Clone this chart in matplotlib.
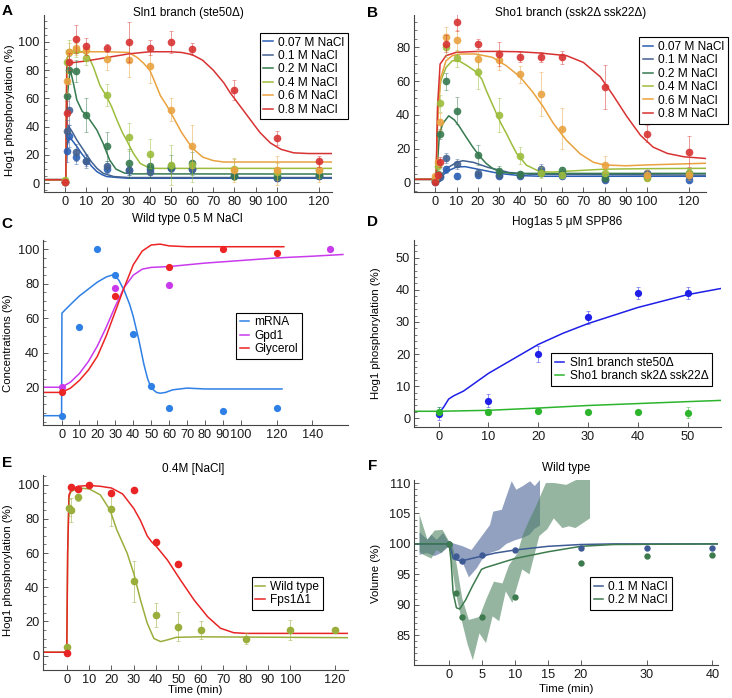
import matplotlib
matplotlib.use('Agg')
import matplotlib.pyplot as plt
from matplotlib.ticker import MultipleLocator

plt.rcParams['font.family'] = ['Liberation Sans', 'DejaVu Sans']
plt.rcParams['font.size'] = 9

# ---------------- A / B : Hog1 phosphorylation time courses
t_blot = [0, 1, 2, 5, 10, 20, 30, 40, 50, 60, 80, 100, 120]
nacl_labels = ['0.07 M NaCl', '0.1 M NaCl', '0.2 M NaCl', '0.4 M NaCl', '0.6 M NaCl', '0.8 M NaCl']
nacl_colors = ['#2b5fb4', '#42618f', '#367a4f', '#9cbd3c', '#e9a23f', '#d83232']

# Sln1 branch (ste50) measurements
sln1_vals = [
    [1, 23, 33.5, 18.5, 16, 10, 9, 10, 11, 10, 5, 4, 5],
    [1, 37, 51.5, 22, 16, 12, 9, 8, 11, 10, 5, 4, 5],
    [1, 62, 80, 79.5, 48, 26, 14, 12, 12, 14, 5, 5, 6],
    [2, 86, 93, 94, 88.5, 62.5, 32.5, 21, 13, 13, 10, 8, 9],
    [1, 72, 93, 96, 94, 88, 87, 83, 52, 26, 9, 9, 9],
    [1, 50, 86, 102, 97, 95.5, 100, 96, 100, 95, 66, 32, 15.5],
]
sln1_err = [
    [0, 8, 8, 5, 4, 3, 3, 3, 3, 3, 2, 2, 2],
    [0, 8, 10, 6, 5, 4, 3, 4, 4, 3, 2, 2, 2],
    [0, 10, 10, 8, 12, 10, 10, 8, 8, 8, 2, 2, 2],
    [0, 8, 8, 5, 5, 8, 10, 10, 14, 12, 8, 6, 5],
    [0, 8, 6, 5, 5, 8, 12, 12, 8, 15, 8, 10, 8],
    [0, 8, 6, 10, 6, 3, 14, 5, 8, 4, 7, 5, 4],
]
# model curves, panel A
sln1_fit_t = [
    [-10, 0.3, 0.8, 2, 3.5, 5.5, 8, 10.2, 12.5, 15, 17.5, 19.7, 25, 30, 126],
    [-10, 0.3, 0.8, 1.6, 3.5, 5.5, 8, 10.2, 12.5, 15, 18, 23, 30, 126],
    [-10, 0.3, 1, 2.4, 4, 5.5, 8, 10.2, 12.5, 15, 18, 21, 24, 28, 32, 126],
    [-10, 0.3, 0.8, 2, 5, 8, 11, 13.4, 16.5, 19.7, 22, 24.4, 27, 29, 32.3, 35.5, 40, 45, 126],
    [-10, 0.3, 0.8, 2, 10, 20, 30, 34, 37, 40, 42, 45, 48, 51, 55, 60, 65, 70, 75, 126],
    [-10, 0.3, 0.8, 2, 10, 20, 30, 40, 50, 55, 60, 65, 70, 75, 78, 82, 87, 92, 97, 102, 108, 115, 126],
]
sln1_fit_v = [
    [2.5, 2.5, 26, 32.5, 30, 26, 20.5, 16.5, 12, 8.2, 6, 4.7, 4, 3.5, 3.5],
    [2.5, 2.5, 34, 40.5, 36, 30.6, 25, 20, 15, 10.6, 7, 4.7, 4, 4],
    [2.5, 2.5, 62, 80.5, 70, 59, 51, 48, 43, 37.6, 28, 16.5, 10, 7.2, 6.6, 6.5],
    [2.5, 2.5, 88, 93, 93.5, 93, 90, 82, 69, 61, 54, 45, 36, 30.6, 21, 14, 10.6, 10.5, 10.5],
    [2.5, 2.5, 88, 92, 93, 93, 92.5, 89, 85, 80, 73, 62, 55, 47, 36, 25, 18.5, 16, 15, 15],
    [2.5, 2.5, 84, 85, 86.5, 89, 91.5, 93, 93, 92.5, 91, 87, 80, 71, 64, 56, 46, 36, 28.5, 24, 21.5, 21, 21],
]

# Sho1 branch (ssk2 ssk22) measurements
sho1_vals = [
    [0.5, 3, 3.5, 8, 4, 4.5, 4, 4, 6, 4, 1.5, 4.5, 1.5],
    [1, 3, 4, 14.5, 11, 6, 4.5, 4.5, 8, 5, 2, 5.5, 4],
    [1, 5, 29, 60, 42.5, 16.5, 7, 5, 6, 7.5, 3, 3.5, 6],
    [2, 10, 47, 80, 73.5, 65.5, 40, 16, 6, 4.5, 6, 3, 6],
    [4, 12, 36, 86, 84, 73, 72.5, 64, 52.5, 32, 10.5, 4.5, 4.5],
    [0.6, 4.5, 12, 82, 94.7, 81.7, 76, 74, 74, 74, 56.6, 29, 18.3],
]
sho1_err = [
    [0, 1, 1, 2, 2, 2, 1, 1, 2, 1, 1, 1, 1],
    [0, 1, 1, 3, 3, 2, 1, 1, 3, 1, 1, 1, 1],
    [0, 2, 3, 5, 8, 6, 3, 2, 2, 2, 1, 1, 2],
    [0, 3, 5, 6, 5, 10, 10, 5, 3, 2, 2, 2, 2],
    [0, 3, 5, 6, 6, 5, 6, 5, 13, 12, 5, 3, 3],
    [0, 2, 3, 5, 5, 3, 7, 3, 3, 4, 13, 5, 9],
]
sho1_fit_t = [
    [-10, 0.3, 1, 3, 6, 10, 14, 20, 30, 40, 50, 128],
    [-10, 0.3, 1, 3, 6, 10, 13, 18, 25, 35, 45, 128],
    [-10, 0.3, 1, 1.9, 3.5, 6.3, 9, 11.4, 14.5, 17.7, 21, 24, 27, 30.4, 34, 38.4, 128],
    [-10, 0.3, 1.1, 2.5, 5, 8, 11, 14.6, 19.3, 22, 24, 26.5, 28.8, 31, 33.6, 36, 38.4, 43, 49.4, 55.8, 65, 80, 100, 128],
    [-10, 0.3, 1, 2.5, 5, 8, 12, 19, 27, 33.6, 40, 46, 51, 55.8, 62, 68.5, 74.8, 80, 90, 100, 128],
    [-10, 0.3, 1, 2.2, 5, 10, 20, 30, 40, 50, 62, 70, 78, 84, 90.6, 97, 103, 109.7, 117.6, 128],
]
sho1_fit_v = [
    [2, 2, 2.5, 4, 7, 9.3, 9.5, 8, 5.5, 4.2, 3.8, 3.8],
    [2, 2, 3, 5, 9, 12, 13, 12, 9, 6, 5, 4.5],
    [2, 2, 12, 29, 35, 39.5, 37, 33, 27, 21, 15.5, 11.4, 8.5, 6.5, 5.8, 5.5, 5.5],
    [2, 2, 45, 60, 68, 72, 72, 69.4, 65.4, 61, 54.6, 47.5, 41, 35, 29, 23, 17.3, 10.4, 6.5, 6.3, 7, 8, 8.3, 8.5],
    [2, 2, 35, 62, 72, 75, 76, 76, 74, 69, 62.5, 53.6, 44.8, 35, 25, 17, 12, 10.5, 10, 10.5, 11.5],
    [2, 2, 45, 70, 75, 77, 77.5, 77.5, 77.3, 76.5, 75, 71, 62.5, 51.7, 39, 28, 21, 17.3, 15.3, 14.3],
]

# ---------------- C : wild type 0.5 M NaCl
mrna_t = [0, 10, 20, 30, 40, 50, 60, 90, 120]
mrna_v = [3.5, 55, 100, 85, 51, 20.5, 8, 6, 8]
gpd1_t = [0, 30, 60, 150]
gpd1_v = [20, 77.5, 79.5, 100]
glyc_t = [0, 30, 60, 90, 120]
glyc_v = [17, 73, 90, 100, 98]
mrna_fit_t = [-10, 0, 0.2, 5, 10, 15, 20, 25, 28, 30, 32, 35, 38, 40, 43, 46, 48, 50, 53, 55, 58, 62, 70, 80, 123]
mrna_fit_v = [3.5, 3.5, 63, 68, 73, 77, 81, 84, 85, 84.5, 82, 76, 68, 61, 48, 33, 25, 19.5, 17, 16.5, 17, 18.5, 19.5, 19, 19]
gpd1_fit_t = [-10, 0, 5, 10, 15, 20, 25, 30, 35, 40, 45, 50, 60, 80, 100, 120, 140, 157]
gpd1_fit_v = [20, 20, 23, 28, 35, 44, 55, 67, 78, 85, 88.5, 89.5, 90, 92, 93.5, 95, 96, 97]
glyc_fit_t = [-10, 0, 5, 10, 15, 20, 25, 30, 35, 40, 45, 50, 55, 60, 70, 124]
glyc_fit_v = [17, 17, 19.5, 24, 30, 38, 50, 64, 78, 91, 99, 102.5, 103, 102, 101.5, 101.5]

# ---------------- D : Hog1as 5 uM SPP86
spp_t = [0, 10, 20, 30, 40, 50]
spp_sln1 = [1.5, 5.5, 20, 31.5, 39, 39]
spp_sln1_err = [2, 2, 2.5, 2, 2, 2]
spp_sho1 = [2, 2, 2.2, 2, 2, 1.8]
spp_sho1_err = [1.5, 1, 0.5, 0.3, 0.3, 1.8]
spp_sln1_fit_t = [0, 1, 2, 3, 5, 10, 15, 20, 25, 30, 35, 40, 45, 50, 57]
spp_sln1_fit_v = [1.5, 3.5, 6, 7, 8.5, 14, 18.5, 23, 26.5, 29.5, 32, 34.5, 36.5, 38.5, 40.5]
spp_sho1_fit_t = [-5, 0, 10, 20, 30, 40, 50, 57]
spp_sho1_fit_v = [2.2, 2.2, 2.5, 3.2, 4, 4.6, 5.2, 5.6]

# ---------------- E : 0.4 M NaCl, wild type vs fps1
wt_t = [0, 1, 2, 5, 20, 30, 40, 50, 60, 80, 100, 120]
wt_v = [5, 86.5, 85, 92.5, 86, 43.5, 24, 17, 15, 10, 15, 15]
wt_err = [0, 5, 7, 2, 10, 12, 7, 8.5, 5, 3, 6, 2]
fps_t = [0, 2, 5, 10, 20, 30, 40, 50]
fps_v = [1.5, 98.5, 97.5, 100, 95, 97, 66.5, 53.5]
wt_fit_t = [-10.5, 0, 0.4, 1, 2, 5, 10, 15, 19.4, 22.4, 27, 30, 33, 36, 39, 42, 45, 49, 60, 126]
wt_fit_v = [2, 2, 60, 93, 96, 98, 97.5, 94, 85, 73.5, 60, 48, 32.5, 19, 10, 8.2, 9.2, 10.7, 11, 10.5]
fps_fit_t = [-10.5, 0, 0.4, 1, 2, 5, 10, 15, 20, 25, 30, 33, 36, 38, 40, 45, 51, 57, 63, 68.8, 74.7, 80, 126]
fps_fit_v = [2, 2, 60, 94, 97, 99, 99.5, 99, 98, 94.5, 86, 79, 70, 66.5, 64, 56, 44, 32.5, 22.8, 16, 13.4, 13, 13]

# ---------------- F : cell volume, wild type
vol1_t = [0, 1, 2, 5, 10, 20, 30, 40]
vol1_v = [100, 98, 97.2, 98.1, 99, 99.4, 99.4, 99.4]
vol2_t = [0, 1, 2, 5, 10, 20, 30, 40]
vol2_v = [100, 92, 88, 88, 91.2, 96.8, 98, 98.2]
vol1_fit_t = [-5.3, 0, 0.3, 0.6, 1, 1.9, 3, 5, 7, 10, 15, 20, 25, 41]
vol1_fit_v = [100, 100, 99, 97.6, 97.4, 97.2, 97.5, 98, 98.5, 99, 99.6, 99.9, 100, 100]
vol2_fit_t = [-5.3, 0, 0.3, 0.6, 1.1, 1.6, 2.5, 3.5, 4.9, 5.5, 10, 15, 20, 25, 41]
vol2_fit_v = [100, 100, 97, 92, 89.5, 89.3, 90.8, 93, 95.8, 96.1, 97.6, 98.7, 99.6, 99.9, 100]
band1_up_t = [-4.5, -3.3, -2.7, -1.9, -0.9, 0, 0.6, 2.1, 3.4, 4.7, 6.2, 6.7, 8, 8.7, 9.5, 10.2, 11.2, 12.3, 13, 13.8]
band1_up_v = [101.9, 100.7, 101.5, 100.7, 101.8, 100.1, 100.1, 99.6, 99, 100.9, 103.1, 105.3, 105.6, 107.8, 110.3, 108.9, 109.5, 110.3, 109.5, 110.5]
band1_lo_t = [-4.5, -3.4, -2.2, -1.2, 0, 0.6, 2.1, 3.0, 4.2, 5, 6.2, 7.6, 8.7, 10, 11.2, 12.2, 13, 13.8]
band1_lo_v = [98.2, 98.5, 98.0, 98.5, 99.6, 97.7, 96.8, 94.5, 96, 97.4, 98.5, 99, 100, 100.6, 101, 101.5, 102.5, 103]
band2_up_t = [-4.5, -3.3, -2.2, -1, 0, 0.5, 1, 2, 3, 4.6, 5.6, 6.8, 8.1, 9.1, 10.4, 11.2, 12.2, 13.2, 14.7, 16, 17.8, 19.3, 21.4]
band2_up_v = [104.8, 100.7, 102.2, 102.3, 100.4, 99.8, 97.5, 91, 87.5, 88, 90.8, 93.8, 93.5, 96.5, 98.5, 101.5, 104, 106.2, 110, 110, 109.7, 110.5, 110.5]
band2_lo_t = [-4.5, -3.9, -2.7, -1.9, -1.2, 0, 0.6, 1.2, 2, 2.8, 3.6, 4.6, 5.6, 6.6, 7.6, 8.6, 9.6, 11.1, 12.2, 13.7, 14.9, 15.9, 17.2, 18.2, 19.2, 20.3, 21.4]
band2_lo_v = [98.7, 98.2, 97.6, 99, 98.5, 99.8, 95, 91, 87, 83.5, 80.9, 85.3, 83.7, 88.1, 87.3, 92.2, 90.3, 95.8, 95, 101.3, 102.4, 104.2, 102.6, 102.9, 102.6, 103.4, 104.2]

blot_xticks = [0, 10, 20, 30, 40, 50, 60, 70, 80, 90, 100, 120]

W, H = 732, 698
fig = plt.figure(figsize=(W / 100, H / 100), dpi=100)


def add_ax(left, top, right, bottom):
    # pixel box -> figure fraction
    return fig.add_axes([left / W, 1 - bottom / H, (right - left) / W, (bottom - top) / H])


def style(ax, xlim, ylim, xticks, yticks, yminor):
    ax.set_xlim(xlim)
    ax.set_ylim(ylim)
    for s in ['top', 'right']:
        ax.spines[s].set_visible(False)
    for s in ['left', 'bottom']:
        ax.spines[s].set_color('#444444')
        ax.spines[s].set_linewidth(0.8)
    ax.set_xticks(xticks)
    ax.set_yticks(yticks)
    ax.yaxis.set_minor_locator(MultipleLocator(yminor))
    ax.tick_params(direction='in', length=3.5, width=0.6, labelsize=9.2, pad=3,
                   color='#444444', labelcolor='#1a1a1a')
    ax.tick_params(which='minor', direction='in', length=2, width=0.5, color='#444444')


def legend(ax, loc, anchor):
    leg = ax.legend(loc=loc, bbox_to_anchor=anchor, frameon=True, fancybox=False,
                    edgecolor='black', framealpha=1, fontsize=8.6, handlelength=0.8,
                    handletextpad=0.45, borderpad=0.3, labelspacing=0.12, borderaxespad=0)
    leg.get_frame().set_linewidth(0.8)


def ylab(ax, text, x, y):
    ax.set_ylabel(text, fontsize=8.2)
    ax.yaxis.set_label_coords(x, y)


# ---- A
axA = add_ax(44, 15, 331.7, 191.7)
for i in range(6):
    axA.plot(sln1_fit_t[i], sln1_fit_v[i], color=nacl_colors[i], lw=1.1, label=nacl_labels[i])
for i in range(6):
    axA.errorbar(t_blot, sln1_vals[i], yerr=sln1_err[i], fmt='none', ecolor=nacl_colors[i],
                 alpha=0.5, elinewidth=0.7, capsize=1.2, capthick=0.6)
    axA.plot(t_blot, sln1_vals[i], 'o', color=nacl_colors[i], ms=5.5, mec='none', alpha=0.9)
style(axA, (-10, 126), (-6, 119), blot_xticks, [0, 20, 40, 60, 80, 100], 5)
legend(axA, 'upper right', (1.057, 0.898))
ylab(axA, 'Hog1 phosphorylation (%)', -0.101, 0.462)

# ---- B
axB = add_ax(414.3, 15, 706, 191.7)
for i in range(6):
    axB.plot(sho1_fit_t[i], sho1_fit_v[i], color=nacl_colors[i], lw=1.1, label=nacl_labels[i])
for i in range(6):
    axB.errorbar(t_blot, sho1_vals[i], yerr=sho1_err[i], fmt='none', ecolor=nacl_colors[i],
                 alpha=0.5, elinewidth=0.7, capsize=1.2, capthick=0.6)
    axB.plot(t_blot, sho1_vals[i], 'o', color=nacl_colors[i], ms=5.5, mec='none', alpha=0.9)
style(axB, (-10, 128), (-5.3, 99), blot_xticks, [0, 20, 40, 60, 80], 5)
legend(axB, 'upper right', (1.074, 0.874))

# ---- C
axC = add_ax(43.3, 240, 348.3, 425)
axC.plot(mrna_fit_t, mrna_fit_v, color='#2f80e6', lw=1.1, label='mRNA')
axC.plot(gpd1_fit_t, gpd1_fit_v, color='#c93aec', lw=1.1, label='Gpd1')
axC.plot(glyc_fit_t, glyc_fit_v, color='#ec2424', lw=1.1, label='Glycerol')
axC.plot(mrna_t, mrna_v, 'o', color='#2f80e6', ms=5.2, mec='none')
axC.plot(gpd1_t, gpd1_v, 'o', color='#c93aec', ms=5.2, mec='none')
axC.plot(glyc_t, glyc_v, 'o', color='#ec2424', ms=5.2, mec='none')
style(axC, (-10.2, 160), (-1.9, 105.4), [0, 10, 20, 30, 40, 50, 60, 70, 80, 90, 100, 120, 140],
      [20, 40, 60, 80, 100], 5)
legend(axC, 'upper left', (0.632, 0.607))
ylab(axC, 'Concentrations (%)', -0.098, 0.44)

# ---- D
axD = add_ax(414.3, 240, 721, 426.7)
axD.plot(spp_sln1_fit_t, spp_sln1_fit_v, color='#1f1fe8', lw=1.1, label='Sln1 branch ste50Δ')
axD.plot(spp_sho1_fit_t, spp_sho1_fit_v, color='#2cb52c', lw=1.1, label='Sho1 branch sk2Δ ssk22Δ')
axD.errorbar(spp_t, spp_sln1, yerr=spp_sln1_err, fmt='none', ecolor='#1f1fe8', alpha=0.5,
             elinewidth=0.7, capsize=1.2, capthick=0.6)
axD.errorbar(spp_t, spp_sho1, yerr=spp_sho1_err, fmt='none', ecolor='#2cb52c', alpha=0.5,
             elinewidth=0.7, capsize=1.2, capthick=0.6)
axD.plot(spp_t, spp_sln1, 'o', color='#1f1fe8', ms=5.2, mec='none')
axD.plot(spp_t, spp_sho1, 'o', color='#2cb52c', ms=5.2, mec='none')
style(axD, (-4.9, 56.7), (-2.6, 55.5), [0, 10, 20, 30, 40, 50], [0, 10, 20, 30, 40, 50], 2)
legend(axD, 'upper left', (0.446, 0.393))
ylab(axD, 'Hog1 phosphorylation (%)', -0.109, 0.5)

# ---- E
axE = add_ax(43.3, 475, 348.3, 670)
axE.plot(wt_fit_t, wt_fit_v, color='#9aae3c', lw=1.1, label='Wild type')
axE.plot(fps_fit_t, fps_fit_v, color='#e82424', lw=1.1, label='Fps1Δ1')
axE.errorbar(wt_t, wt_v, yerr=wt_err, fmt='none', ecolor='#9aae3c', alpha=0.55,
             elinewidth=0.7, capsize=1.2, capthick=0.6)
axE.plot(wt_t, wt_v, 'o', color='#9aae3c', ms=5.5, mec='none')
axE.plot(fps_t, fps_v, 'o', color='#e82424', ms=5.5, mec='none')
style(axE, (-10.5, 126), (-8.4, 105.6), blot_xticks, [0, 20, 40, 60, 80, 100], 5)
legend(axE, 'upper left', (0.683, 0.475))
ylab(axE, 'Hog1 phosphorylation (%)', -0.098, 0.513)
axE.set_xlabel('Time (min)', fontsize=8.2)
axE.xaxis.set_label_coords(0.497, -0.077)

# ---- F
axF = add_ax(414.3, 480, 717.7, 665)
axF.fill(band1_up_t + band1_lo_t[::-1], band1_up_v + band1_lo_v[::-1],
         color='#4b6399', alpha=0.6, lw=0)
axF.fill(band2_up_t + band2_lo_t[::-1], band2_up_v + band2_lo_v[::-1],
         color='#4f8462', alpha=0.6, lw=0)
axF.plot(vol1_fit_t, vol1_fit_v, color='#3d5a95', lw=1.1, label='0.1 M NaCl')
axF.plot(vol2_fit_t, vol2_fit_v, color='#3d7a4e', lw=1.1, label='0.2 M NaCl')
axF.plot(vol1_t, vol1_v, 'o', color='#3d5a95', ms=4.6, mec='none')
axF.plot(vol2_t, vol2_v, 'o', color='#3d7a4e', ms=4.6, mec='none')
style(axF, (-5.3, 40.8), (80.1, 110.5), [0, 5, 10, 15, 20, 30, 40], [85, 90, 95, 100, 105, 110], 1)
legend(axF, 'upper left', (0.579, 0.474))
ylab(axF, 'Volume (%)', -0.110, 0.496)
axF.set_xlabel('Time (min)', fontsize=8.2)
axF.xaxis.set_label_coords(0.5, -0.103)

# panel titles and letters
titles = [('Sln1 branch (ste50Δ)', 188, 13.3), ('Sho1 branch (ssk2Δ ssk22Δ)', 571, 13.3),
          ('Wild type 0.5 M NaCl', 187, 219), ('Hog1as 5 μM SPP86', 567, 221.7),
          ('0.4M [NaCl]', 193, 469), ('Wild type', 566, 468)]
for txt, x, y in titles:
    fig.text(x / W, 1 - y / H, txt, ha='center', va='center', fontsize=8.5)
letters = [('A', 7, 11), ('B', 373, 12.7), ('C', 7, 224), ('D', 373, 222), ('E', 7, 463), ('F', 373, 466)]
for txt, x, y in letters:
    fig.text(x / W, 1 - y / H, txt, ha='center', va='center', fontsize=11, fontweight='bold')

fig.savefig('out.png', dpi=100)
